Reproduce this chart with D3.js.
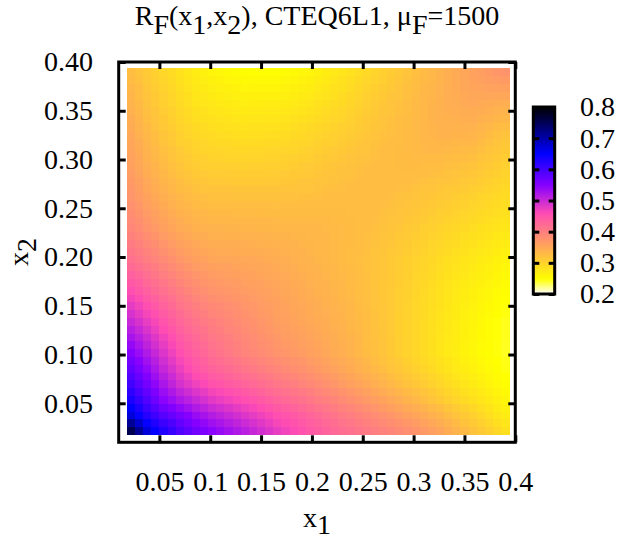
<!DOCTYPE html>
<html>
<head>
<meta charset="utf-8">
<script src="https://cdn.jsdelivr.net/npm/d3@7"></script>
<style>
  body { margin: 0; background: #fff; }
  svg text { font-family: "Liberation Serif", "Times New Roman", Times, serif; fill: #000; }
</style>
</head>
<body>
<svg id="chart" width="619" height="541"></svg>
<script>
// Grid of momentum fractions shared by x1 (columns) and x2 (rows)
const gridValues = [0.022,0.030,0.038,0.046,0.054,0.062,0.070,0.078,0.086,0.094,0.102,0.110,0.118,0.126,0.134,0.142,0.150,0.158,0.166,0.174,0.182,0.190,0.198,0.206,0.214,0.222,0.230,0.238,0.246,0.254,0.262,0.270,0.278,0.286,0.294,0.302,0.310,0.318,0.326,0.334,0.342,0.350,0.358,0.366,0.374,0.382,0.390];

// R_F(x1,x2) x 1000; first row is x2 = 0.022, last row x2 = 0.390
const rfPermille = [
[752,712,672,648,625,608,590,578,565,555,545,536,528,519,510,501,493,484,475,468,460,453,445,439,433,426,420,415,410,405,400,395,390,385,380,374,368,361,355,346,338,329,320,311,303,294,285],
[712,679,646,626,605,591,575,563,550,540,530,522,514,506,498,490,482,474,465,459,452,445,438,432,426,419,413,408,402,397,392,386,381,376,370,364,358,351,345,337,329,320,312,303,295,286,278],
[672,646,620,603,585,573,560,548,535,525,515,508,500,493,485,478,470,463,455,449,443,436,430,424,418,411,405,400,394,389,383,377,372,366,360,354,348,341,335,327,319,311,303,295,287,278,270],
[651,628,604,585,565,553,540,529,518,508,498,491,484,477,470,464,457,450,443,437,431,425,419,413,408,401,395,390,384,379,373,367,361,355,349,343,337,330,324,316,309,302,294,287,280,272,265],
[630,609,588,567,545,533,520,510,500,490,480,474,468,461,455,449,443,436,430,425,419,414,408,402,397,391,385,379,374,368,362,356,350,344,338,332,325,319,312,305,299,292,285,279,273,266,260],
[615,595,575,555,534,520,505,495,485,476,466,461,455,449,443,437,431,425,419,414,409,404,398,393,387,382,376,370,365,359,353,347,341,335,329,323,317,311,304,298,292,285,279,273,267,261,255],
[600,581,562,542,522,506,490,480,470,461,452,447,441,436,430,425,419,414,408,403,398,393,388,383,377,372,366,360,355,349,343,337,332,326,320,314,308,302,296,290,284,278,272,267,261,256,250],
[588,570,551,532,512,497,481,470,459,451,442,437,431,426,420,415,410,405,399,395,390,385,380,375,370,365,359,354,348,343,337,331,326,320,314,308,303,297,291,285,279,274,268,263,258,253,248],
[575,558,540,521,502,487,472,460,448,440,432,427,421,416,410,405,400,395,390,386,381,377,372,367,362,357,352,347,341,336,330,325,319,314,308,302,297,291,285,280,274,269,263,259,254,250,245],
[563,546,529,512,494,479,464,453,442,434,425,420,414,408,402,397,392,388,383,379,375,371,366,362,357,352,348,343,337,332,326,321,315,310,304,299,293,288,282,277,271,266,260,256,252,248,244],
[550,534,518,502,485,470,455,445,435,427,418,412,406,399,393,389,384,380,375,371,368,364,360,356,352,347,343,338,333,327,322,317,311,306,300,295,289,284,278,273,268,262,257,253,250,246,242],
[538,523,507,492,476,462,448,439,429,422,413,408,402,396,390,386,381,377,372,368,365,361,358,354,350,345,342,337,332,326,322,317,311,306,300,295,289,284,279,274,269,263,258,254,251,246,242],
[525,511,497,483,468,455,442,433,424,416,408,403,398,392,387,383,378,374,369,365,362,359,355,352,348,344,340,336,331,326,321,316,311,306,300,295,290,285,279,274,269,264,259,255,251,247,243],
[513,500,486,473,459,447,435,426,418,411,403,399,393,389,383,379,374,370,365,362,359,356,353,349,346,342,339,334,330,325,321,316,310,305,300,295,290,285,280,275,270,264,259,255,252,247,243],
[500,488,475,463,450,439,428,420,412,405,398,394,389,385,380,376,371,367,362,359,356,353,350,347,344,340,337,333,329,324,320,315,310,305,300,295,290,285,280,275,270,265,260,256,252,247,243],
[489,477,465,454,441,431,421,413,405,399,392,389,384,381,376,373,368,365,360,357,354,351,348,345,343,339,336,332,328,324,320,315,310,305,301,296,291,286,281,276,271,266,261,257,254,249,245],
[478,467,455,444,433,423,413,406,399,393,387,384,380,377,373,370,366,363,359,356,353,350,347,344,341,338,335,331,327,323,319,315,310,306,301,296,292,287,282,277,272,268,263,259,255,251,247],
[466,456,445,435,424,415,406,399,392,386,381,378,375,372,369,366,363,360,357,354,351,348,345,342,340,336,333,330,326,323,319,314,310,306,302,297,292,287,282,278,273,269,264,260,257,252,248],
[455,445,435,425,415,407,398,392,385,380,375,373,370,368,365,363,360,358,355,352,349,346,343,340,338,335,332,329,325,322,318,314,310,306,302,297,293,288,283,279,274,270,265,261,258,254,250],
[445,436,426,417,408,400,391,385,379,374,370,368,366,364,361,360,357,355,353,350,347,344,341,339,337,334,331,328,325,322,318,314,311,307,303,298,294,290,285,281,276,272,268,264,261,257,253],
[435,427,418,409,400,393,384,379,373,369,364,363,361,360,358,356,354,352,350,348,345,342,340,337,335,333,330,328,324,322,318,315,311,307,304,299,296,291,287,283,279,275,270,267,264,260,256],
[425,417,409,401,393,385,377,372,366,363,359,357,357,355,354,353,351,349,348,345,343,340,338,336,334,331,329,327,324,321,318,315,312,308,304,300,297,293,288,284,281,277,273,269,266,262,259],
[415,408,400,393,385,378,370,365,360,357,353,352,352,351,350,349,348,346,345,343,341,338,336,334,332,330,328,326,323,321,318,315,312,308,305,301,298,294,290,286,283,279,275,272,269,265,262],
[409,402,394,387,379,372,365,360,355,353,349,348,348,347,346,346,345,343,342,341,339,337,335,333,332,330,328,326,324,322,319,316,313,310,307,303,300,296,293,289,286,282,278,275,273,269,266],
[403,396,388,381,373,366,359,355,350,348,345,345,344,344,343,342,341,340,339,338,337,335,334,333,331,330,328,327,324,323,320,318,315,312,309,305,302,299,295,292,289,285,282,279,276,273,270],
[396,389,381,374,366,360,354,349,345,344,341,341,340,340,339,339,338,337,336,336,335,334,333,332,331,329,328,327,325,323,321,319,316,313,310,307,304,301,298,294,291,288,285,282,280,276,273],
[390,383,375,368,360,354,348,344,340,339,337,337,336,336,335,335,334,334,333,333,333,332,332,331,330,329,328,327,325,324,322,320,317,315,312,309,306,303,300,297,294,291,288,285,283,280,277],
[386,379,370,363,356,350,344,340,336,335,333,333,332,332,331,331,331,331,330,330,330,330,330,329,329,328,327,327,325,324,323,321,319,317,314,311,309,306,303,300,297,295,292,289,286,283,280],
[382,374,366,359,351,346,340,336,332,331,329,329,329,328,328,328,327,327,327,327,327,327,327,327,327,327,327,326,325,325,324,322,320,318,316,314,311,309,306,304,301,298,295,292,290,287,284],
[377,370,361,354,347,341,335,332,328,327,325,325,325,324,324,324,324,324,323,324,324,325,325,325,326,325,326,326,325,325,324,323,322,320,318,316,314,311,309,307,304,302,299,296,293,290,287],
[373,365,356,349,342,337,331,328,324,323,321,321,321,320,320,320,320,320,320,321,321,322,322,323,324,324,325,325,325,325,325,324,323,321,320,318,316,314,312,310,307,305,302,299,296,293,290],
[370,362,353,346,339,333,327,324,320,319,317,317,317,316,316,316,316,316,316,317,318,319,319,320,322,322,323,324,324,325,325,325,324,323,322,320,319,317,315,313,311,309,306,303,300,297,293],
[367,359,350,343,335,330,324,320,316,315,313,313,312,312,311,312,312,312,312,314,314,316,316,318,319,320,322,323,324,324,325,325,325,324,324,323,321,320,319,317,315,313,310,307,304,300,297],
[363,355,346,339,332,326,320,316,312,310,308,308,308,307,307,307,307,308,308,310,311,312,313,315,317,318,320,321,323,324,325,326,325,326,325,325,324,323,322,320,318,316,314,310,307,304,300],
[360,352,343,336,328,322,316,312,308,306,304,304,303,303,302,303,303,304,304,306,307,309,310,312,314,316,318,320,322,323,325,326,326,327,327,327,326,326,325,323,322,320,318,314,311,307,303],
[358,349,340,333,325,319,313,309,305,303,300,300,299,299,298,299,299,300,300,302,303,305,306,309,311,313,315,317,320,321,323,325,325,327,327,328,328,328,328,327,326,324,322,318,315,311,307],
[355,347,338,330,322,316,310,306,301,299,297,296,295,295,294,295,295,296,296,298,299,301,303,305,308,310,312,315,317,319,322,324,325,327,328,329,330,331,331,330,329,328,327,323,319,315,311],
[353,344,335,327,319,313,306,302,298,296,293,292,291,290,289,290,290,291,291,293,295,297,299,302,304,306,309,312,315,317,320,322,324,326,328,329,331,333,334,334,333,332,331,327,323,318,314],
[350,341,332,324,316,310,303,299,294,292,289,288,287,286,285,286,286,287,287,289,291,293,295,298,301,303,306,309,312,315,318,321,323,326,328,330,333,335,337,337,336,336,335,331,327,322,318],
[347,338,329,321,313,307,300,296,291,289,286,284,283,282,281,282,282,283,283,285,287,289,291,294,297,300,303,306,309,313,316,319,322,325,327,330,333,335,338,339,338,339,339,335,332,328,324],
[344,335,326,319,311,305,298,293,287,285,282,281,280,278,277,278,278,279,279,281,283,285,287,290,293,296,299,303,307,311,314,318,321,324,327,330,333,336,339,340,341,342,343,340,337,334,331],
[341,332,323,316,308,302,295,289,284,282,279,277,276,274,272,273,273,274,274,276,278,280,282,286,289,293,296,300,304,308,312,316,319,322,326,329,333,336,339,342,343,345,346,344,342,339,337],
[338,329,320,313,305,299,292,286,280,278,275,273,272,270,268,269,269,270,270,272,274,276,278,282,285,289,292,297,301,306,310,314,318,321,325,329,333,336,340,343,345,348,350,348,347,345,343],
[335,326,318,311,303,297,290,284,278,275,271,269,268,266,264,264,264,265,265,267,269,272,274,278,281,285,289,294,298,303,307,311,316,319,323,328,332,335,339,343,346,349,352,352,352,352,351],
[332,324,315,308,300,294,287,281,275,272,268,266,264,262,259,260,260,260,260,263,265,267,269,274,277,282,285,290,295,300,304,309,313,317,322,326,331,334,339,343,347,351,354,355,357,358,359],
[328,321,313,306,298,292,285,279,273,268,264,262,259,257,255,255,255,255,255,258,260,263,265,269,273,278,282,287,291,296,301,306,311,315,320,325,329,333,338,342,347,352,356,359,362,365,367],
[325,318,310,303,295,289,282,276,270,265,260,258,255,253,250,250,250,250,250,253,255,258,260,265,269,274,278,283,288,293,298,303,308,313,318,323,328,332,337,342,348,353,358,362,367,371,375]
];

// Axis ticks and their printed labels
const xTickValues = [0.05, 0.10, 0.15, 0.20, 0.25, 0.30, 0.35, 0.40];
const xTickLabels = ["0.05", "0.1", "0.15", "0.2", "0.25", "0.3", "0.35", "0.4"];
const yTickValues = [0.05, 0.10, 0.15, 0.20, 0.25, 0.30, 0.35, 0.40];
const yTickLabels = ["0.05", "0.10", "0.15", "0.20", "0.25", "0.30", "0.35", "0.40"];
const cbTickValues = [0.2, 0.3, 0.4, 0.5, 0.6, 0.7, 0.8];
const cbTickLabels = ["0.2", "0.3", "0.4", "0.5", "0.6", "0.7", "0.8"];

const fontFamily = '"Liberation Serif", "Times New Roman", Times, serif';
const svg = d3.select("#chart");

// gnuplot rgbformulae 30,31,32 (black - blue - violet - yellow - white)
function gnuplotPalette(t) {
  const c = z => Math.max(0, Math.min(1, z));
  const r = c(t / 0.32 - 0.78125);
  const g = c(2 * t - 0.84);
  let b;
  if (t < 0.25) b = 4 * t;
  else if (t < 0.42) b = 1;
  else if (t < 0.92) b = -2 * t + 1.84;
  else b = t / 0.08 - 11.5;
  return d3.rgb(r * 255, g * 255, c(b) * 255).formatHex();
}

const x = d3.scaleLinear().domain([0.01, 0.4]).range([118.7, 515.3]);
const y = d3.scaleLinear().domain([0.01, 0.4]).range([442.3, 62]);
const cb = d3.scaleLinear().domain([0.2, 0.8]).range([294, 107]);
// palette runs reversed: high R_F is dark, low R_F is light
const color = d3.scaleSequential(gnuplotPalette).domain([0.8, 0.2]).clamp(true);

// heat map cells
const halfStep = 0.004;
const cells = [];
rfPermille.forEach((row, j) => row.forEach((v, i) => {
  cells.push({ x1: gridValues[i], x2: gridValues[j], rf: v / 1000 });
}));

svg.append("g")
  .selectAll("rect")
  .data(cells)
  .join("rect")
  .attr("x", d => x(d.x1 - halfStep))
  .attr("y", d => y(d.x2 + halfStep))
  .attr("width", d => x(d.x1 + halfStep) - x(d.x1 - halfStep) + 0.5)
  .attr("height", d => y(d.x2 - halfStep) - y(d.x2 + halfStep) + 0.5)
  .attr("fill", d => color(d.rf))
  .attr("shape-rendering", "crispEdges");

function styleAxis(g) {
  g.select(".domain").remove();
  g.attr("font-size", 28).attr("font-family", fontFamily);
  g.selectAll(".tick line").attr("stroke", "#000").attr("stroke-width", 3);
  g.selectAll(".tick text").attr("fill", "#000");
}

// inward ticks on all four sides
svg.append("g")
  .attr("transform", `translate(0,${y(0.01)})`)
  .call(d3.axisBottom(x).tickValues(xTickValues).tickFormat((d, i) => xTickLabels[i])
    .tickSizeInner(-7).tickSizeOuter(0).tickPadding(29))
  .call(styleAxis);

svg.append("g")
  .attr("transform", `translate(0,${y(0.4)})`)
  .call(d3.axisTop(x).tickValues(xTickValues).tickFormat("")
    .tickSizeInner(-7).tickSizeOuter(0))
  .call(styleAxis);

svg.append("g")
  .attr("transform", `translate(${x(0.01)},0)`)
  .call(d3.axisLeft(y).tickValues(yTickValues).tickFormat((d, i) => yTickLabels[i])
    .tickSizeInner(-7).tickSizeOuter(0).tickPadding(25.7))
  .call(styleAxis);

svg.append("g")
  .attr("transform", `translate(${x(0.4)},0)`)
  .call(d3.axisRight(y).tickValues(yTickValues).tickFormat("")
    .tickSizeInner(-7).tickSizeOuter(0))
  .call(styleAxis);

// plot frame
svg.append("rect")
  .attr("x", x(0.01)).attr("y", y(0.4))
  .attr("width", x(0.4) - x(0.01)).attr("height", y(0.01) - y(0.4))
  .attr("fill", "none").attr("stroke", "#000").attr("stroke-width", 3);

// colour box
const grad = svg.append("defs").append("linearGradient")
  .attr("id", "cbGrad").attr("x1", 0).attr("y1", 1).attr("x2", 0).attr("y2", 0);
d3.range(61).forEach(k => {
  grad.append("stop").attr("offset", k / 60).attr("stop-color", color(0.2 + k * 0.01));
});

const cbLeft = 533.3, cbRight = 554.7;
svg.append("rect")
  .attr("x", cbLeft).attr("y", cb(0.8))
  .attr("width", cbRight - cbLeft).attr("height", cb(0.2) - cb(0.8))
  .attr("fill", "url(#cbGrad)");

svg.append("g")
  .attr("transform", `translate(${cbLeft},0)`)
  .call(d3.axisRight(cb).tickValues(cbTickValues).tickFormat((d, i) => cbTickLabels[i])
    .tickSizeInner(6).tickSizeOuter(0).tickPadding(40.7))
  .call(styleAxis);

svg.append("g")
  .attr("transform", `translate(${cbRight},0)`)
  .call(d3.axisLeft(cb).tickValues(cbTickValues).tickFormat("")
    .tickSizeInner(6).tickSizeOuter(0))
  .call(styleAxis);

svg.append("rect")
  .attr("x", cbLeft).attr("y", cb(0.8))
  .attr("width", cbRight - cbLeft).attr("height", cb(0.2) - cb(0.8))
  .attr("fill", "none").attr("stroke", "#000").attr("stroke-width", 3);

// text with subscripts: parts alternate normal / lowered
function richText(sel, parts, shift) {
  parts.forEach((p, i) => {
    const sub = i % 2 === 1;
    sel.append("tspan")
      .attr("dy", i === 0 ? 0 : (sub ? shift : -shift))
      .text(p);
  });
}

const title = svg.append("text")
  .attr("x", 317).attr("y", 25)
  .attr("text-anchor", "middle")
  .attr("font-size", 28);
richText(title, ["R", "F", "(x", "1", ",x", "2", "), CTEQ6L1, \u03bc", "F", "=1500"], 9);

const xTitle = svg.append("text")
  .attr("x", 317).attr("y", 527)
  .attr("text-anchor", "middle")
  .attr("font-size", 28);
richText(xTitle, ["x", "1"], 7);

const yTitle = svg.append("text")
  .attr("transform", "translate(28,252) rotate(-90)")
  .attr("text-anchor", "middle")
  .attr("font-size", 28);
richText(yTitle, ["x", "2"], 8);
</script>
</body>
</html>
